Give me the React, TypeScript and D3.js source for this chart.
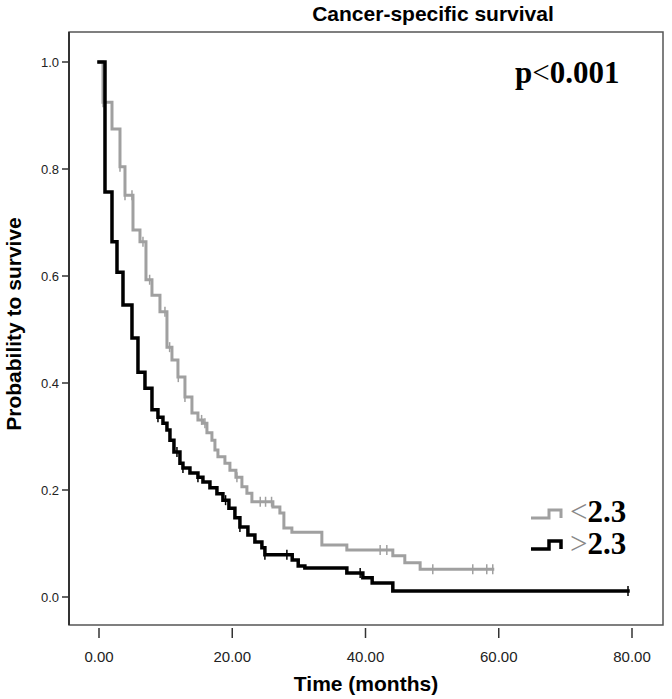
import React from "react";
import * as d3 from "d3";

// Kaplan-Meier steps (months, survival)
const lowTimes = [0, 0.6, 1.95, 3.15, 3.9, 5.1, 6.15, 7.05, 7.95, 9.15, 10.2, 10.95, 11.85, 12.9, 13.95, 14.85, 15.6, 16.2, 16.95, 17.4, 17.85, 18.9, 19.65, 20.55, 21.45, 22.2, 22.95, 26.1, 27.15, 27.75, 28.95, 33.45, 37.2, 44.1, 45.9, 48.2, 59.1];
const lowSurv = [1, 0.925, 0.875, 0.804, 0.751, 0.686, 0.664, 0.593, 0.564, 0.533, 0.467, 0.443, 0.411, 0.374, 0.344, 0.331, 0.325, 0.307, 0.293, 0.275, 0.262, 0.25, 0.237, 0.224, 0.206, 0.194, 0.178, 0.168, 0.157, 0.129, 0.121, 0.097, 0.088, 0.077, 0.064, 0.052, 0.052];
const lowCensored = [0.6, 3.15, 3.9, 4.95, 6.6, 7.6, 9.9, 10.6, 11.9, 12.9, 15.4, 15.9, 20.7, 24.2, 25.0, 25.9, 42.2, 43.2, 50.1, 56.1, 58.2, 59.1];

const highTimes = [0, 0.9, 1.95, 2.7, 3.6, 4.95, 5.85, 6.9, 7.95, 8.85, 9.6, 10.2, 10.65, 11.25, 12.15, 12.6, 13.65, 14.85, 15.6, 16.65, 17.7, 18.6, 19.5, 20.4, 21.15, 22.35, 23.4, 24.45, 24.9, 29.0, 29.9, 30.9, 37.2, 39.6, 41.0, 44.1, 79.4];
const highSurv = [1, 0.757, 0.664, 0.607, 0.546, 0.484, 0.42, 0.39, 0.35, 0.336, 0.325, 0.312, 0.293, 0.271, 0.25, 0.241, 0.232, 0.224, 0.215, 0.204, 0.193, 0.181, 0.166, 0.148, 0.131, 0.116, 0.103, 0.092, 0.079, 0.069, 0.058, 0.054, 0.045, 0.036, 0.026, 0.011, 0.011];
const highCensored = [8.85, 11.7, 12.6, 14.85, 19.0, 21.15, 24.9, 28.2, 39.2, 79.4];

const xTicks = [0, 20, 40, 60, 80];
const yTicks = [0, 0.2, 0.4, 0.6, 0.8, 1.0];

const sans = "'Liberation Sans', Arial, sans-serif";
const serif = "'Liberation Serif', 'Times New Roman', serif";

const frame = { left: 69, right: 663, top: 32, bottom: 625 };

const x = d3.scaleLinear().domain([0, 80]).range([99, 632]);
const y = d3.scaleLinear().domain([0, 1]).range([597, 62]);

const line = d3
  .line<[number, number]>()
  .x((d) => x(d[0]))
  .y((d) => y(d[1]))
  .curve(d3.curveStepAfter);

function survAt(times: number[], surv: number[], t: number) {
  const i = d3.bisectRight(times, t) - 1;
  return surv[Math.max(0, i)];
}

function Curve({ times, surv, censored, color, width }: any) {
  const pts = times.map((t: number, i: number) => [t, surv[i]] as [number, number]);
  return (
    <g>
      <path d={line(pts) || ""} fill="none" stroke={color} strokeWidth={width} strokeLinecap="square" />
      {censored.map((t: number, i: number) => {
        const cy = y(survAt(times, surv, t));
        return <line key={i} x1={x(t)} x2={x(t)} y1={cy - 5} y2={cy + 5} stroke={color} strokeWidth={1.5} />;
      })}
    </g>
  );
}

export default function App() {
  return (
    <svg width={672} height={699} style={{ position: "absolute", left: 0, top: 0, background: "#fff" }}>
      <rect x={0} y={0} width={672} height={699} fill="#fff" />
      <text x={433} y={21} textAnchor="middle" fontFamily={sans} fontWeight="bold" fontSize={21}>
        Cancer-specific survival
      </text>
      <rect
        x={frame.left}
        y={frame.top}
        width={frame.right - frame.left}
        height={frame.bottom - frame.top}
        fill="none"
        stroke="#555"
        strokeWidth={1.5}
      />
      <line x1={frame.left} x2={frame.left} y1={frame.top} y2={frame.bottom} stroke="#333" strokeWidth={2} />
      {yTicks.map((v) => (
        <g key={v}>
          <line x1={frame.left - 7} x2={frame.left} y1={y(v)} y2={y(v)} stroke="#333" strokeWidth={1.5} />
          <text x={frame.left - 10} y={y(v) + 5} textAnchor="end" fontFamily={sans} fontSize={13} fill="#222">
            {v.toFixed(1)}
          </text>
        </g>
      ))}
      {xTicks.map((v) => (
        <g key={v}>
          <line x1={x(v)} x2={x(v)} y1={frame.bottom + 3} y2={frame.bottom + 13} stroke="#333" strokeWidth={1.5} />
          <text x={x(v)} y={frame.bottom + 37} textAnchor="middle" fontFamily={sans} fontSize={15} fill="#222">
            {v.toFixed(2)}
          </text>
        </g>
      ))}
      <text x={366} y={691} textAnchor="middle" fontFamily={sans} fontWeight="bold" fontSize={21}>
        Time (months)
      </text>
      <text
        transform="translate(21,324) rotate(-90)"
        textAnchor="middle"
        fontFamily={sans}
        fontWeight="bold"
        fontSize={21}
      >
        Probability to survive
      </text>

      <Curve times={lowTimes} surv={lowSurv} censored={lowCensored} color="#a0a0a0" width={3} />
      <Curve times={highTimes} surv={highSurv} censored={highCensored} color="#000" width={3.5} />

      <text x={515} y={83} fontFamily={serif} fontWeight="bold" fontSize={31}>
        p<tspan fontWeight="normal">&lt;</tspan>0.001
      </text>

      <path d="M531,518 H549 V510 H561 V518" fill="none" stroke="#a0a0a0" strokeWidth={3} />
      <text x={570} y={522} fontFamily={serif} fontWeight="bold" fontSize={31}>
        <tspan fontWeight="normal" fill="#888">&lt;</tspan>2.3
      </text>
      <path d="M531,549 H549 V541 H561 V549" fill="none" stroke="#000" strokeWidth={3.5} />
      <text x={570} y={554} fontFamily={serif} fontWeight="bold" fontSize={31}>
        <tspan fontWeight="normal" fill="#888">&gt;</tspan>2.3
      </text>
    </svg>
  );
}
